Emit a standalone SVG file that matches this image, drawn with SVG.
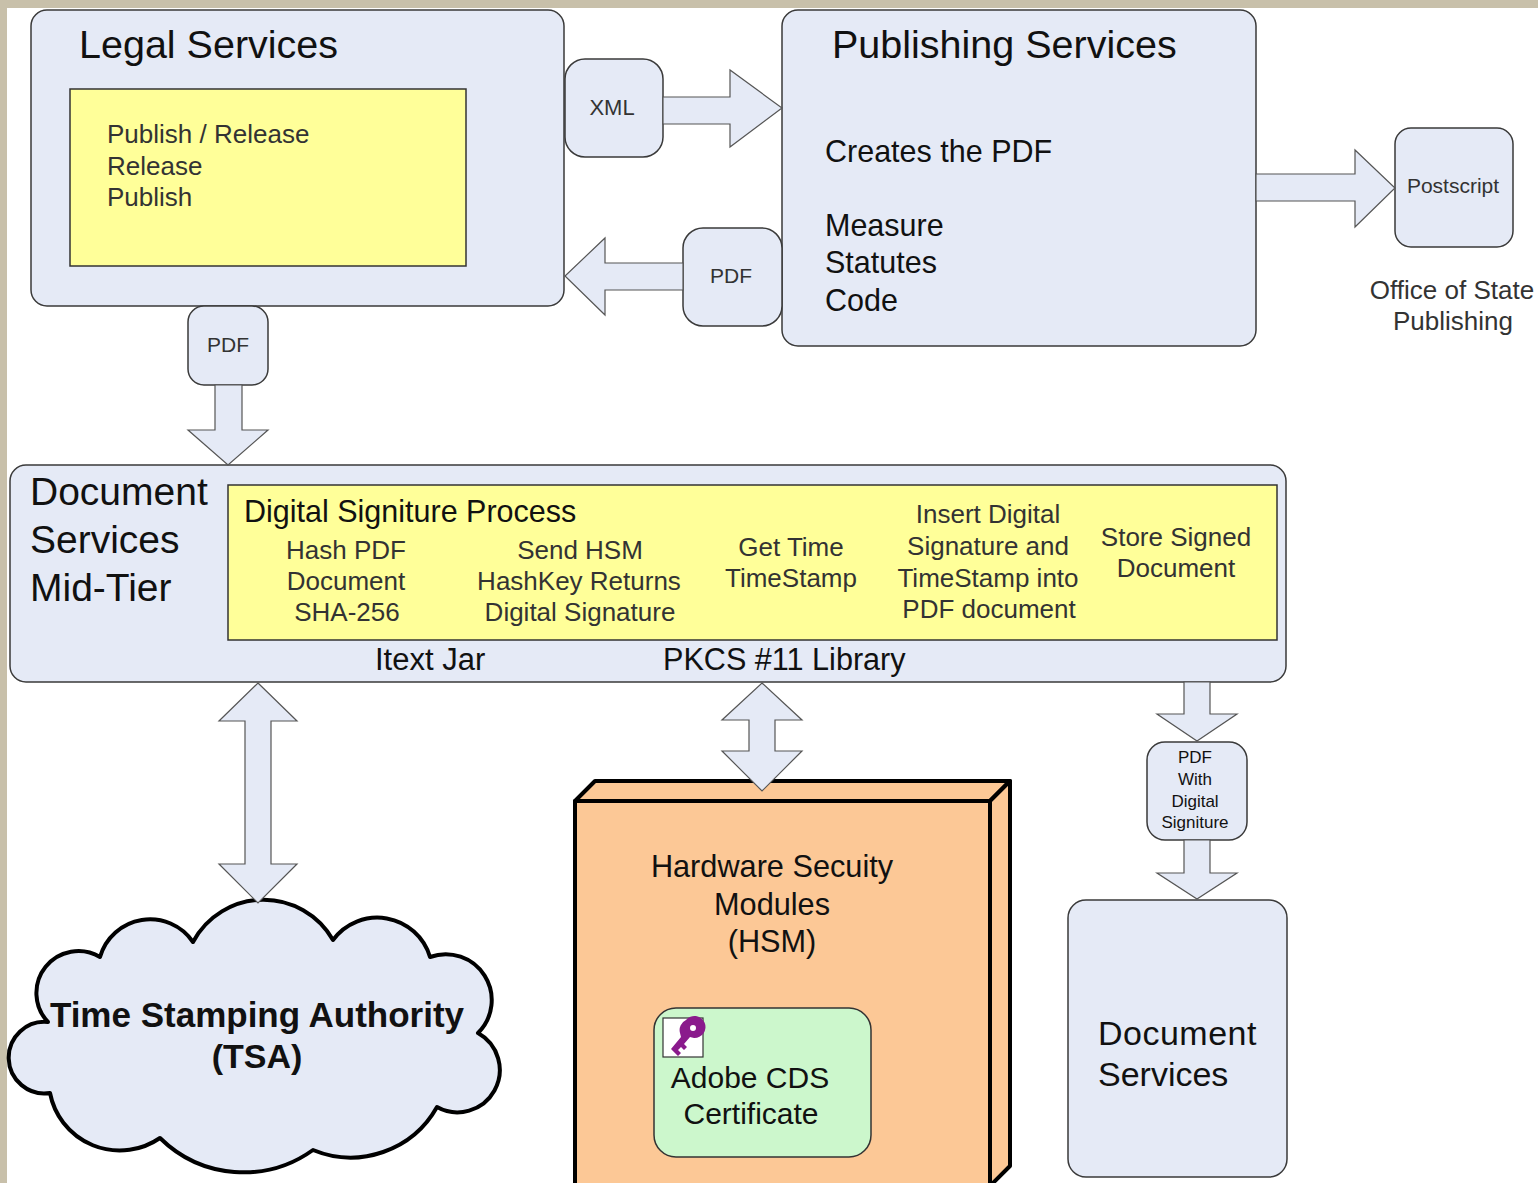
<svg xmlns="http://www.w3.org/2000/svg" width="1538" height="1183" viewBox="0 0 1538 1183">
<style>
text{font-family:"Liberation Sans",Arial,sans-serif;fill:#111}
.c{text-anchor:middle}
.g{fill:#333}
.box{fill:#e5eaf6;stroke:#3a3a3a;stroke-width:1.5}
.yel{fill:#ffff99;stroke:#333;stroke-width:1.5}
.arr{fill:#e5eaf6;stroke:#555;stroke-width:1.2;stroke-linejoin:miter}
.thick{stroke:#000;stroke-width:4;stroke-linejoin:round}
</style>
<rect x="0" y="0" width="1538" height="1183" fill="#fff"/>
<rect x="0" y="0" width="1538" height="8" fill="#c8c0aa"/>
<rect x="0" y="0" width="7" height="1183" fill="#c8c0aa"/>

<g id="legal-services">
<rect class="box" x="31" y="10" width="533" height="296" rx="16"/>
<text x="79" y="58" font-size="39.5">Legal Services</text>
<rect class="yel" x="70" y="89" width="396" height="177"/>
<text class="g" x="107" y="143" font-size="26">Publish / Release</text>
<text class="g" x="107" y="175" font-size="26">Release</text>
<text class="g" x="107" y="206" font-size="26">Publish</text>
</g>

<g id="publishing-services">
<rect class="box" x="782" y="10" width="474" height="336" rx="16"/>
<text x="832" y="58" font-size="39.5">Publishing Services</text>
<text x="825" y="162" font-size="30.5">Creates the PDF</text>
<text x="825" y="236" font-size="30.5">Measure</text>
<text x="825" y="273" font-size="30.5">Statutes</text>
<text x="825" y="311" font-size="30.5">Code</text>
</g>

<g id="xml-label">
<rect class="box" x="565" y="59" width="98" height="98" rx="20"/>
<text class="c g" x="612" y="115" font-size="22">XML</text>
</g>

<g id="pdf-return-label">
<rect class="box" x="683" y="228" width="99" height="98" rx="20"/>
<text class="c g" x="731" y="283" font-size="21">PDF</text>
</g>

<g id="pdf-down-label">
<rect class="box" x="188" y="306" width="80" height="79" rx="16"/>
<text class="c g" x="228" y="352" font-size="21">PDF</text>
</g>

<g id="postscript">
<rect class="box" x="1395" y="128" width="118" height="119" rx="16"/>
<text class="c g" x="1453" y="193" font-size="21">Postscript</text>
<text class="c g" x="1452" y="299" font-size="26">Office of State</text>
<text class="c g" x="1453" y="330" font-size="26">Publishing</text>
</g>

<g id="mid-tier">
<rect class="box" x="10" y="465" width="1276" height="217" rx="16"/>
<text x="30" y="505" font-size="39">Document</text>
<text x="30" y="553" font-size="39">Services</text>
<text x="30" y="601" font-size="39">Mid-Tier</text>
<rect class="yel" x="228" y="485" width="1049" height="155"/>
<text x="244" y="522" font-size="30.5">Digital Signiture Process</text>
<text class="c g" x="346" y="559" font-size="26">Hash PDF</text>
<text class="c g" x="346" y="590" font-size="26">Document</text>
<text class="c g" x="347" y="621" font-size="26">SHA-256</text>
<text class="c g" x="580" y="559" font-size="26">Send HSM</text>
<text class="c g" x="579" y="590" font-size="26">HashKey Returns</text>
<text class="c g" x="580" y="621" font-size="26">Digital Signature</text>
<text class="c g" x="791" y="556" font-size="26">Get Time</text>
<text class="c g" x="791" y="587" font-size="26">TimeStamp</text>
<text class="c g" x="988" y="523" font-size="26">Insert Digital</text>
<text class="c g" x="988" y="555" font-size="26">Signature and</text>
<text class="c g" x="988" y="587" font-size="26">TimeStamp into</text>
<text class="c g" x="989" y="618" font-size="26">PDF document</text>
<text class="c g" x="1176" y="546" font-size="26">Store Signed</text>
<text class="c g" x="1176" y="577" font-size="26">Document</text>
<text x="375" y="670" font-size="31">Itext Jar</text>
<text x="663" y="670" font-size="30.6">PKCS #11 Library</text>
</g>

<g id="tsa">
<path class="thick" fill="#e5eaf6" d="M193 942 A80 80 0 0 1 333 940 A55 55 0 0 1 430 957 A46 46 0 0 1 478 1033 A42 42 0 0 1 437 1107 A99 99 0 0 1 313 1150 A119 119 0 0 1 160 1138 A71 71 0 0 1 50 1093 A35.8 35.8 0 1 1 48 1022 A42 42 0 0 1 100 957 A52 52 0 0 1 193 942 Z"/>
<text class="c" x="257" y="1027" font-size="35" font-weight="bold">Time Stamping Authority</text>
<text class="c" x="257" y="1068" font-size="34" font-weight="bold">(TSA)</text>
</g>

<g id="hsm">
<polygon class="thick" fill="#fcc896" points="575,801 595,781 1010,781 990,801"/>
<polygon class="thick" fill="#fcc896" points="990,801 1010,781 1010,1166 990,1186"/>
<rect class="thick" fill="#fcc896" x="575" y="801" width="415" height="400"/>
<text class="c" x="772" y="877" font-size="30.7">Hardware Secuity</text>
<text class="c" x="772" y="915" font-size="30.7">Modules</text>
<text class="c" x="772" y="952" font-size="30.7">(HSM)</text>
</g>

<g id="adobe-cds-certificate">
<rect x="654" y="1008" width="217" height="149" rx="22" fill="#ccf7cc" stroke="#333" stroke-width="1.5"/>
<rect x="663" y="1018" width="40" height="39" fill="#fff" stroke="#333" stroke-width="1.2"/>
<path d="M686 1020 a11 11 0 1 1 8 18 l-4 -1 l-6 7 l3 3 l-3 3 l-3 -3 l-3 3 l3 3 l-3 3 l-7 -7 l10 -12 l-1 -4 a11 11 0 0 1 6 -13 Z M690 1028 a3 3 0 1 0 6 0 a3 3 0 1 0 -6 0 Z" fill="#8a1a8c" fill-rule="evenodd"/>
<text class="c" x="750" y="1088" font-size="30">Adobe CDS</text>
<text class="c" x="751" y="1124" font-size="30">Certificate</text>
</g>

<g id="pdf-signed-label">
<rect class="box" x="1147" y="742" width="100" height="98" rx="18"/>
<text class="c" x="1195" y="763" font-size="17">PDF</text>
<text class="c" x="1195" y="785" font-size="17">With</text>
<text class="c" x="1195" y="807" font-size="17">Digital</text>
<text class="c" x="1195" y="828" font-size="17">Signiture</text>
</g>

<g id="document-services">
<rect class="box" x="1068" y="900" width="219" height="277" rx="18"/>
<text x="1098" y="1045" font-size="34" letter-spacing="0.5">Document</text>
<text x="1098" y="1086" font-size="34">Services</text>
</g>

<g id="connectors">
<polygon class="arr" points="663,97 730,97 730,70 782,108 730,147 730,124 663,124"/>
<polygon class="arr" points="683,263 605,263 605,238 565,276 605,315 605,290 683,290"/>
<polygon class="arr" points="1256,174 1355,174 1355,150 1395,188 1355,227 1355,201 1256,201"/>
<polygon class="arr" points="215,385 215,430 188,430 228,465 268,430 242,430 242,385"/>
<polygon class="arr" points="258,683 297,721 271,721 271,864 297,864 258,903 219,864 245,864 245,721 219,721"/>
<polygon class="arr" points="762,683 802,720 775,720 775,751 802,751 762,791 722,751 749,751 749,720 722,720"/>
<polygon class="arr" points="1184,682 1184,714 1157,714 1197,741 1237,714 1210,714 1210,682"/>
<polygon class="arr" points="1184,840 1184,873 1157,873 1197,899 1237,873 1210,873 1210,840"/>
</g>
</svg>
